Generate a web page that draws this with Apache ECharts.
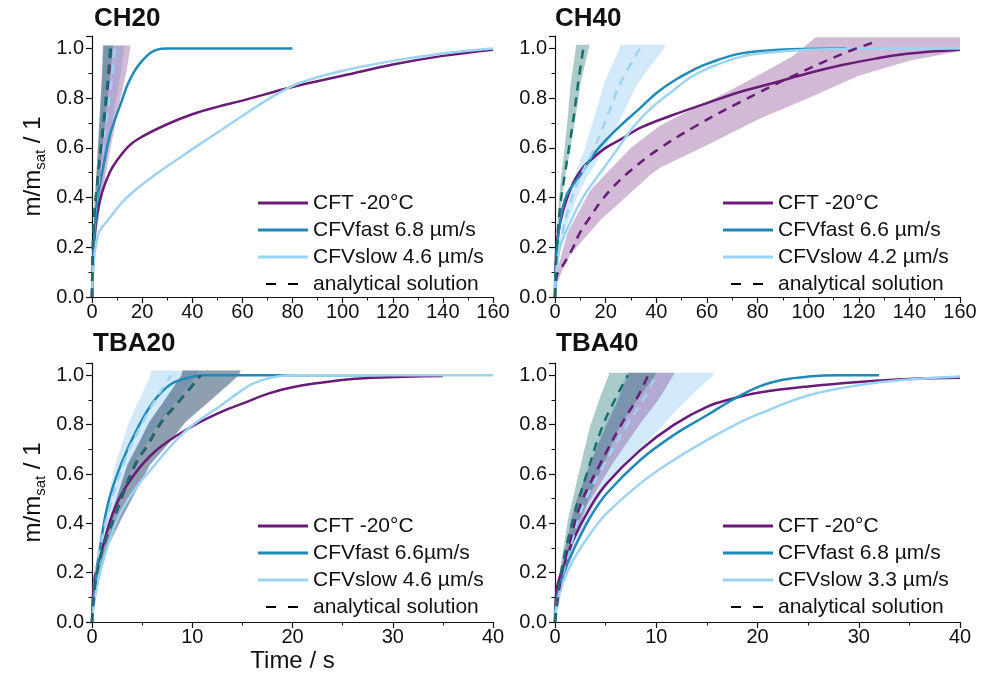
<!DOCTYPE html>
<html>
<head>
<meta charset="utf-8">
<script src="https://cdn.jsdelivr.net/npm/echarts@6/dist/echarts.min.js"></script>
<style>
  html, body { margin: 0; padding: 0; background: #fff; }
  #chart { width: 991px; height: 674px; }
</style>
</head>
<body>
<div id="chart"></div>
<script>
// measured curves, [time s, m/msat]
const ch20Cft = [[0,0],[0.5,0.15],[1,0.24],[2,0.33],[4,0.42],[7,0.5],[10,0.55],[15,0.61],[20,0.645],[30,0.695],[40,0.735],[50,0.765],[60,0.79],[80,0.845],[100,0.89],[120,0.935],[140,0.97],[160,0.995]];
const ch20Fast = [[0,0],[0.5,0.15],[1,0.25],[2.4,0.41],[5,0.55],[6.4,0.62],[8,0.68],[11.7,0.784],[14,0.85],[17,0.91],[20,0.95],[23,0.98],[26,0.995],[30,1.0],[80,1.0]];
const ch20Slow = [[0,0],[0.4,0.1],[1,0.17],[2.4,0.25],[4,0.28],[6.4,0.31],[11.5,0.375],[17,0.428],[22.3,0.47],[27,0.505],[35,0.56],[43,0.615],[51,0.668],[59,0.722],[67,0.775],[75,0.823],[83,0.862],[100,0.91],[120,0.95],[140,0.98],[160,1.0]];

const ch40Cft = [[0,0],[0.3,0.14],[1,0.24],[3.3,0.35],[7,0.455],[11,0.52],[14,0.55],[20,0.6],[27,0.64],[33.6,0.68],[46,0.73],[60,0.78],[73,0.825],[86,0.86],[100,0.9],[113,0.932],[126,0.958],[139,0.979],[160,0.995]];
const ch40Fast = [[0,0],[0.5,0.15],[2,0.3],[4.6,0.41],[10,0.49],[15,0.57],[20,0.63],[27,0.7],[33.6,0.76],[40,0.82],[47,0.87],[55,0.915],[60,0.938],[73,0.979],[86,0.993],[100,0.998],[115,1.0]];
const ch40Slow = [[0,0],[0.5,0.1],[2,0.2],[6,0.3],[11,0.4],[15,0.46],[20.4,0.535],[25,0.6],[31,0.685],[38,0.76],[46.7,0.831],[53,0.88],[60,0.918],[73,0.965],[86,0.985],[100,0.995],[120,0.999],[160,1.0]];

const tba20Cft = [[0,0],[0.27,0.177],[0.93,0.285],[2.26,0.46],[3.9,0.58],[6.25,0.69],[9.6,0.784],[12.9,0.852],[15,0.885],[17.5,0.925],[20,0.952],[24.7,0.98],[28,0.99],[35,0.997]];
const tba20Fast = [[0,0],[0.3,0.15],[0.8,0.3],[1.6,0.48],[2.9,0.64],[4.6,0.79],[6.25,0.9],[7.9,0.965],[9.6,0.99],[11.2,1.0],[28,1.0]];
const tba20Slow = [[0,0],[0.3,0.1],[0.93,0.22],[2,0.36],[2.9,0.447],[4.5,0.55],[6.25,0.636],[8,0.72],[9.6,0.784],[11.3,0.835],[12.9,0.879],[14.8,0.935],[16,0.965],[17.8,0.99],[20,1.0],[40,1.0]];

const tba40Cft = [[0,0],[0.16,0.13],[0.8,0.22],[1.8,0.332],[3.5,0.467],[5.1,0.561],[8.4,0.696],[11.7,0.798],[15,0.872],[17.6,0.906],[20.2,0.93],[25,0.955],[30,0.973],[35,0.985],[40,0.99]];
const tba40Fast = [[0,0],[0.2,0.1],[0.8,0.19],[1.8,0.29],[3.5,0.426],[5.1,0.521],[8.4,0.656],[11.7,0.757],[15,0.838],[17.5,0.9],[20.2,0.955],[22.5,0.982],[25,0.995],[28,1.0],[32,1.0]];
const tba40Slow = [[0,0],[0.2,0.08],[0.8,0.16],[1.8,0.251],[3.5,0.359],[5.1,0.44],[8.4,0.561],[11.7,0.656],[15,0.737],[18.3,0.81],[20.2,0.845],[25,0.918],[30,0.96],[35,0.983],[40,0.995]];

// analytical solutions
const ch20FitFast = [[0,0],[0.7,0.3],[2.4,0.49],[4.4,0.69],[6.4,0.89],[7.2,1.0]];
const ch20FitCft = [[0,0],[0.7,0.29],[2.5,0.49],[4.6,0.69],[6.7,0.89],[7.5,1.0]];
const ch20FitSlow = [[0,0],[0.9,0.3],[3,0.49],[5.5,0.69],[8,0.89],[9,1.0]];

const ch40FitFast = [[0,0],[0.6,0.18],[2,0.36],[4,0.5],[6,0.63],[8,0.77],[9.2,0.865],[11.2,1.0]];
const ch40FitCft = [[0,0],[0.7,0.085],[3.3,0.13],[7.2,0.2],[9.9,0.26],[13.8,0.32],[17.8,0.38],[23,0.443],[30,0.51],[40.2,0.59],[56,0.69],[73.1,0.784],[94.2,0.89],[115.2,0.985],[127.7,1.03]];
const ch40FitSlow = [[0,0],[1,0.15],[3.4,0.28],[6.7,0.4],[9.9,0.483],[15.1,0.59],[21.1,0.738],[25.7,0.858],[33.6,1.0]];

const tba20FitFast = [[0,0],[0.3,0.15],[0.93,0.28],[2.26,0.43],[4.25,0.636],[5.6,0.723],[6.9,0.811],[8.6,0.892],[10.2,0.97],[10.8,1.0]];
const tba20FitCft = [[0,0],[0.3,0.15],[0.95,0.28],[2.3,0.43],[4.3,0.636],[5.65,0.723],[6.95,0.811],[8.65,0.892],[10.25,0.97],[10.85,1.0]];
const tba20FitSlow = [[0,0],[0.3,0.17],[0.8,0.3],[1.8,0.47],[3.4,0.67],[4.8,0.79],[6.3,0.9],[7.9,1.0]];

const tba40FitFast = [[0,0],[0.5,0.177],[1.8,0.42],[3.1,0.595],[4.6,0.784],[5.9,0.9],[7.2,1.0]];
const tba40FitCft = [[0,0],[0.6,0.18],[1.5,0.33],[2.5,0.474],[4.4,0.636],[6.6,0.804],[8,0.9],[9.2,1.0]];
const tba40FitSlow = [[0,0],[0.7,0.18],[1.7,0.33],[2.8,0.474],[4.8,0.636],[7.2,0.804],[8.7,0.9],[10,1.0]];

// uncertainty bands: faster edge (hi) and slower edge (lo)
const ch20BandFastHi = [[0,0],[0.3,0.2],[1,0.36],[2,0.54],[3,0.72],[4,0.9],[4.4,1.012]];
const ch20BandFastLo = [[0,0],[0.6,0.2],[2,0.38],[4,0.58],[6,0.78],[7.5,0.92],[8.4,1.012]];
const ch20BandCftHi = [[0,0],[0.3,0.2],[1,0.36],[2,0.54],[3,0.72],[4,0.9],[4.4,1.012]];
const ch20BandCftLo = [[0,0],[1.2,0.2],[3.5,0.38],[7,0.58],[11,0.78],[14,0.92],[15.4,1.012]];
const ch20BandSlowHi = [[0,0],[0.35,0.2],[1.1,0.36],[2.2,0.54],[3.3,0.72],[4.3,0.9],[4.7,1.012]];
const ch20BandSlowLo = [[0,0],[1,0.2],[3,0.38],[6,0.58],[9.4,0.78],[11.8,0.92],[13,1.012]];

const ch40BandFastHi = [[0,0],[0.25,0.15],[0.8,0.28],[1.6,0.4],[2.4,0.48],[3.7,0.59],[5.2,0.74],[6.2,0.86],[8.2,1.0],[8.3,1.015]];
const ch40BandFastLo = [[0,0],[0.4,0.15],[1.3,0.28],[2.7,0.4],[3.9,0.48],[6,0.59],[8.4,0.74],[10.1,0.86],[13.3,1.0],[13.5,1.015]];
const ch40BandCftHi = [[0,0],[0.5,0.09],[2,0.15],[5,0.26],[14,0.43],[30,0.6],[41.5,0.69],[55,0.76],[68,0.825],[80,0.89],[94,0.97],[103,1.045],[160,1.045]];
const ch40BandCftLo = [[0,0],[1,0.06],[3,0.11],[6,0.17],[18,0.31],[37.5,0.49],[41.5,0.52],[60,0.61],[81,0.718],[100,0.8],[120,0.89],[140,0.95],[160,0.99]];
const ch40BandSlowHi = [[0,0],[0.77,0.15],[2.6,0.28],[5.1,0.4],[7.4,0.48],[11.5,0.59],[16,0.74],[19.4,0.86],[25.5,1.0],[25.7,1.015]];
const ch40BandSlowLo = [[0,0],[1.3,0.15],[4.3,0.28],[8.6,0.4],[12.5,0.48],[19.4,0.59],[27,0.74],[32.7,0.86],[43,1.0],[43.5,1.015]];

const tba20BandFastHi = [[0,0],[0.25,0.15],[0.77,0.28],[1.86,0.43],[3.5,0.636],[4.6,0.723],[5.7,0.811],[7.1,0.892],[8.4,0.97],[8.9,1.0],[9.0,1.02]];
const tba20BandFastLo = [[0,0],[0.4,0.15],[1.26,0.28],[3.05,0.43],[5.75,0.636],[7.6,0.723],[9.3,0.811],[11.6,0.892],[13.8,0.97],[14.6,1.0],[14.8,1.02]];
const tba20BandCftHi = [[0,0],[0.26,0.15],[0.8,0.28],[1.9,0.43],[3.55,0.636],[4.65,0.723],[5.75,0.811],[7.15,0.892],[8.45,0.97],[8.95,1.0],[9.05,1.02]];
const tba20BandCftLo = [[0,0],[0.42,0.15],[1.3,0.28],[3.1,0.43],[5.8,0.636],[7.65,0.723],[9.35,0.811],[11.65,0.892],[13.85,0.97],[14.65,1.0],[14.85,1.02]];
const tba20BandSlowHi = [[0,0],[0.16,0.15],[0.5,0.28],[1.2,0.43],[2.3,0.636],[3,0.723],[3.7,0.811],[4.6,0.892],[5.5,0.97],[5.8,1.0],[5.9,1.02]];
const tba20BandSlowLo = [[0,0],[0.3,0.15],[0.9,0.28],[2.2,0.43],[4.1,0.636],[5.4,0.723],[6.7,0.811],[8.3,0.892],[9.9,0.97],[10.5,1.0],[10.6,1.02]];

const tba40BandFastHi = [[0,0],[0.35,0.177],[1.3,0.42],[2.3,0.595],[3.4,0.784],[4.35,0.9],[5.3,1.0],[5.35,1.01]];
const tba40BandFastLo = [[0,0],[0.7,0.177],[2.5,0.42],[4.3,0.595],[6.3,0.784],[8.1,0.9],[9.9,1.0],[10,1.01]];
const tba40BandCftHi = [[0,0],[0.47,0.18],[1.17,0.33],[1.95,0.474],[3.4,0.636],[5.15,0.804],[6.25,0.9],[7.2,1.0],[7.25,1.01]];
const tba40BandCftLo = [[0,0],[0.76,0.18],[1.9,0.33],[3.2,0.474],[5.6,0.636],[8.4,0.804],[10.2,0.9],[11.7,1.0],[11.8,1.01]];
const tba40BandSlowHi = [[0,0],[0.5,0.18],[1.2,0.33],[2,0.474],[3.4,0.636],[5,0.804],[6.1,0.9],[7,1.0],[7.05,1.01]];
const tba40BandSlowLo = [[0,0],[1,0.18],[2.4,0.34],[4,0.48],[6,0.6],[8.4,0.7],[11.4,0.831],[13.3,0.912],[15.6,1.0],[15.7,1.01]];

const panelTitles = ['CH20', 'CH40', 'TBA20', 'TBA40'];
const cftName = 'CFT -20°C';
const fastNames = ['CFVfast 6.8 µm/s', 'CFVfast 6.6 µm/s', 'CFVfast 6.6µm/s', 'CFVfast 6.8 µm/s'];
const slowNames = ['CFVslow 4.6 µm/s', 'CFVslow 4.2 µm/s', 'CFVslow 4.6 µm/s', 'CFVslow 3.3 µm/s'];
const fitName = 'analytical solution';
const xMax = [160, 160, 40, 40];
const xStep = [20, 20, 10, 10];

const FONT = '"Liberation Sans", Arial, sans-serif';
const PURPLE = '#6a1b78';
const BLUE = '#1f8ab8';
const LIGHT = '#9dd3f2';
const TEAL = '#16706c';
const PURPLE_BAND = 'rgba(106,27,120,0.30)';
const TEAL_BAND = 'rgba(22,112,108,0.36)';
const LIGHT_BAND = 'rgba(140,200,240,0.40)';

const gridPos = [
  { left: 92, top: 36, width: 401, height: 261 },
  { left: 555, top: 36, width: 405, height: 261 },
  { left: 92, top: 363, width: 401, height: 259 },
  { left: 555, top: 363, width: 405, height: 259 }
];

function curve(name, data, idx, color, dashed) {
  return {
    name: name, type: 'line', xAxisIndex: idx, yAxisIndex: idx,
    data: data, smooth: 0.4, symbol: 'none',
    z: dashed ? 4 : 3, silent: true,
    lineStyle: { color: color, width: 2.5, type: dashed ? [9, 7] : 'solid' },
    itemStyle: { color: color }
  };
}

function band(hi, lo, idx, color) {
  const poly = hi.concat(lo.slice().reverse());
  return {
    type: 'custom', xAxisIndex: idx, yAxisIndex: idx, z: 1, silent: true,
    data: [[0, 0]],
    renderItem: function (params, api) {
      return {
        type: 'polygon',
        shape: { points: poly.map(function (p) { return api.coord(p); }) },
        style: { fill: color }
      };
    }
  };
}

const series = [
  band(ch20BandSlowHi, ch20BandSlowLo, 0, LIGHT_BAND),
  band(ch20BandCftHi, ch20BandCftLo, 0, PURPLE_BAND),
  band(ch20BandFastHi, ch20BandFastLo, 0, TEAL_BAND),
  band(ch40BandSlowHi, ch40BandSlowLo, 1, LIGHT_BAND),
  band(ch40BandCftHi, ch40BandCftLo, 1, PURPLE_BAND),
  band(ch40BandFastHi, ch40BandFastLo, 1, TEAL_BAND),
  band(tba20BandSlowHi, tba20BandSlowLo, 2, LIGHT_BAND),
  band(tba20BandCftHi, tba20BandCftLo, 2, PURPLE_BAND),
  band(tba20BandFastHi, tba20BandFastLo, 2, TEAL_BAND),
  band(tba40BandSlowHi, tba40BandSlowLo, 3, LIGHT_BAND),
  band(tba40BandCftHi, tba40BandCftLo, 3, PURPLE_BAND),
  band(tba40BandFastHi, tba40BandFastLo, 3, TEAL_BAND),

  curve(cftName, ch20Cft, 0, PURPLE), curve(fastNames[0], ch20Fast, 0, BLUE), curve(slowNames[0], ch20Slow, 0, LIGHT),
  curve(cftName, ch40Cft, 1, PURPLE), curve(fastNames[1], ch40Fast, 1, BLUE), curve(slowNames[1], ch40Slow, 1, LIGHT),
  curve(cftName, tba20Cft, 2, PURPLE), curve(fastNames[2], tba20Fast, 2, BLUE), curve(slowNames[2], tba20Slow, 2, LIGHT),
  curve(cftName, tba40Cft, 3, PURPLE), curve(fastNames[3], tba40Fast, 3, BLUE), curve(slowNames[3], tba40Slow, 3, LIGHT),

  curve('fit slow CH20', ch20FitSlow, 0, LIGHT, true), curve('fit cft CH20', ch20FitCft, 0, PURPLE, true), curve('fit fast CH20', ch20FitFast, 0, TEAL, true),
  curve('fit slow CH40', ch40FitSlow, 1, LIGHT, true), curve('fit cft CH40', ch40FitCft, 1, PURPLE, true), curve('fit fast CH40', ch40FitFast, 1, TEAL, true),
  curve('fit slow TBA20', tba20FitSlow, 2, LIGHT, true), curve('fit cft TBA20', tba20FitCft, 2, PURPLE, true), curve('fit fast TBA20', tba20FitFast, 2, TEAL, true),
  curve('fit slow TBA40', tba40FitSlow, 3, LIGHT, true), curve('fit cft TBA40', tba40FitCft, 3, PURPLE, true), curve('fit fast TBA40', tba40FitFast, 3, TEAL, true),

  // legend-only entry
  {
    name: fitName, type: 'line', xAxisIndex: 0, yAxisIndex: 0, data: [], symbol: 'none',
    lineStyle: { color: '#000', width: 2.5, type: [10, 12], dashOffset: 14 },
    itemStyle: { color: '#000' }
  }
];

const axisCommon = {
  axisLine: { show: true, onZero: false, lineStyle: { color: '#111', width: 1.2 } },
  axisTick: { show: true, inside: false, length: 6, lineStyle: { color: '#111', width: 1.2 } },
  minorTick: { show: true, splitNumber: 2, length: 3.5, lineStyle: { color: '#111', width: 1 } },
  splitLine: { show: false }
};

const xAxis = gridPos.map(function (g, i) {
  return Object.assign({}, axisCommon, {
    type: 'value', gridIndex: i, min: 0, max: xMax[i], interval: xStep[i],
    axisLabel: { fontSize: 20, color: '#111', margin: 5, fontFamily: FONT },
    name: i === 2 ? 'Time / s' : '',
    nameLocation: 'middle', nameGap: 27,
    nameTextStyle: { fontSize: 24, color: '#111', fontFamily: FONT }
  });
});

const yAxis = gridPos.map(function (g, i) {
  return Object.assign({}, axisCommon, {
    type: 'value', gridIndex: i, min: 0, max: 1.05, interval: 0.2,
    axisLabel: {
      fontSize: 20, color: '#111', margin: 8, fontFamily: FONT, showMaxLabel: false,
      formatter: function (v) { return v > 1.001 ? '' : v.toFixed(1); }
    },
    name: (i % 2 === 0) ? '{a|m/m}{s|sat}{a| / 1}' : '',
    nameLocation: 'middle', nameRotate: 90, nameGap: 44,
    nameTextStyle: {
      fontFamily: FONT, color: '#111',
      rich: {
        a: { fontSize: 24, lineHeight: 30, fontFamily: FONT, color: '#111' },
        s: { fontSize: 15, lineHeight: 13, verticalAlign: 'bottom', fontFamily: FONT, color: '#111' }
      }
    }
  });
});

// solid curves get a plain bar, the analytical entry keeps the dashed line style (marker hidden)
const legendPos = [[257, 190], [722, 190], [257, 513], [722, 513]];
const legend = legendPos.map(function (p, i) {
  return {
    left: p[0], top: p[1], orient: 'vertical', padding: 0,
    itemWidth: 50, itemHeight: 3, itemGap: 1, selectedMode: false,
    data: [
      { name: cftName, icon: 'rect' },
      { name: fastNames[i], icon: 'rect' },
      { name: slowNames[i], icon: 'rect' },
      { name: fitName, itemStyle: { opacity: 0 } }
    ],
    textStyle: { fontSize: 21, lineHeight: 26, color: '#111', fontFamily: FONT }
  };
});

const titlePos = [[94, 6], [555, 6], [93, 331], [556, 331]];
const title = panelTitles.map(function (t, i) {
  return {
    text: t, left: titlePos[i][0], top: titlePos[i][1], padding: 0,
    textStyle: { fontSize: 26, fontWeight: 'bold', color: '#111', fontFamily: FONT }
  };
});

const chart = echarts.init(document.getElementById('chart'), null, { renderer: 'canvas' });
chart.setOption({
  animation: false,
  backgroundColor: '#fff',
  textStyle: { fontFamily: FONT },
  title: title,
  legend: legend,
  grid: gridPos,
  xAxis: xAxis,
  yAxis: yAxis,
  series: series
});
</script>
</body>
</html>
